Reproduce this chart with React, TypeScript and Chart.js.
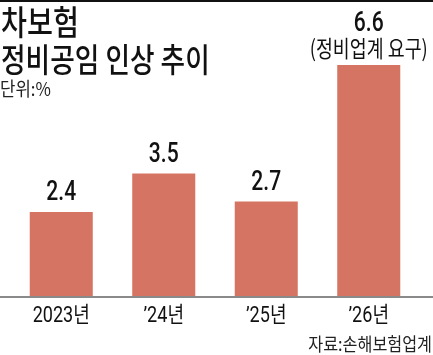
import React, { useEffect, useRef } from 'react';
import { Chart, registerables } from 'chart.js';

Chart.register(...registerables);

const categories = ['2023년', '’24년', '’25년', '’26년'];
const values = [2.4, 3.5, 2.7, 6.6];
const valueLabels = ['2.4', '3.5', '2.7', '6.6'];
const noteLabels = ['', '', '', '(정비업계 요구)'];
const titleLines = ['차보험', '정비공임 인상 추이'];
const unitLabel = '단위:%';
const sourceLabel = '자료:손해보험업계';
const yMin = 0;
const yMax = 8;

const W = 433;
const H = 355;
const BAR = '#d57463';
const KR = "'Noto Sans CJK KR'";

function drawText(
  ctx: CanvasRenderingContext2D,
  text: string,
  x: number,
  y: number,
  font: string,
  sx: number,
  align: CanvasTextAlign,
  color: string,
  baseline: CanvasTextBaseline = 'middle'
) {
  ctx.save();
  ctx.translate(x, y);
  ctx.scale(sx, 1);
  ctx.font = font;
  ctx.fillStyle = color;
  ctx.textAlign = align;
  ctx.textBaseline = baseline;
  ctx.fillText(text, 0, 0);
  ctx.restore();
}

const decorPlugin = {
  id: 'decor',
  afterDraw(chart: any) {
    const ctx: CanvasRenderingContext2D = chart.ctx;
    const area = chart.chartArea;
    const xScale = chart.scales.x;
    // top rule
    ctx.save();
    ctx.fillStyle = '#111';
    ctx.fillRect(0, 0, W, 2);
    // baseline
    ctx.fillStyle = '#8a8a8a';
    ctx.fillRect(0, area.bottom, W, 2);
    ctx.restore();

    // title
    drawText(ctx, titleLines[0], 1, 22, `500 34px ${KR}`, 0.83, 'left', '#111');
    drawText(ctx, titleLines[1], 1, 59, `500 33px ${KR}`, 0.81, 'left', '#111');
    drawText(ctx, unitLabel, 0, 89, `400 19px ${KR}`, 0.88, 'left', '#222');

    // value labels
    const meta = chart.getDatasetMeta(0);
    meta.data.forEach((bar: any, i: number) => {
      const note = noteLabels[i];
      if (note) {
        drawText(ctx, note, bar.x, bar.y - 17, `400 23px ${KR}`, 0.8, 'center', '#111');
        drawText(ctx, valueLabels[i], bar.x, bar.y - 34, `500 27px Roboto, ${KR}`, 0.78, 'center', '#111', 'alphabetic');
      } else {
        drawText(ctx, valueLabels[i], bar.x, bar.y - 12, `500 27px Roboto, ${KR}`, 0.78, 'center', '#111', 'alphabetic');
      }
    });

    // category labels
    categories.forEach((c, i) => {
      const x = xScale.getPixelForValue(i);
      drawText(ctx, c, x, area.bottom + 20, `400 22px Roboto, ${KR}`, 0.82, 'center', '#111');
    });

    // source
    drawText(ctx, sourceLabel, W - 1, 344, `400 18px ${KR}`, 0.9, 'right', '#222');
  },
};

export default function App() {
  const ref = useRef<HTMLCanvasElement>(null);
  useEffect(() => {
    document.body.style.margin = '0';
    const canvas = ref.current!;
    const chart = new Chart(canvas, {
      type: 'bar',
      data: {
        labels: categories,
        datasets: [
          {
            data: values,
            backgroundColor: BAR,
            borderWidth: 0,
            barPercentage: 0.615,
            categoryPercentage: 1,
          },
        ],
      },
      options: {
        responsive: false,
        animation: false,
        events: [],
        layout: { padding: { left: 10, right: 13, top: 16, bottom: 59 } },
        plugins: {
          legend: { display: false },
          tooltip: { enabled: false },
          title: { display: false },
        },
        scales: {
          x: { display: false },
          y: { display: false, min: yMin, max: yMax },
        },
      },
      plugins: [decorPlugin],
    });
    return () => chart.destroy();
  }, []);
  return (
    <div style={{ position: 'absolute', left: 0, top: 0, width: W, height: H, background: '#fff' }}>
      <canvas ref={ref} width={W} height={H} style={{ display: 'block', width: W, height: H }} />
    </div>
  );
}
